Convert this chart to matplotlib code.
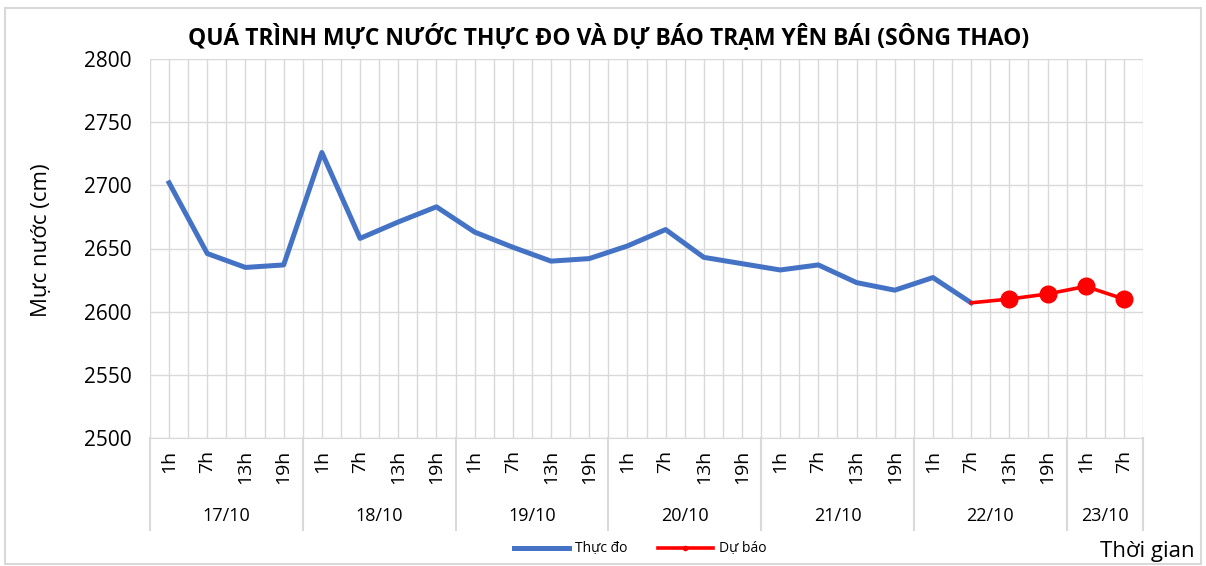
import matplotlib
matplotlib.use("Agg")
import matplotlib.pyplot as plt
from matplotlib.patches import Rectangle

# ====================================
# DATA
# ====================================

days = ["17/10", "18/10", "19/10", "20/10", "21/10", "22/10", "23/10"]
hours_per_day = [
    ["1h", "7h", "13h", "19h"],
    ["1h", "7h", "13h", "19h"],
    ["1h", "7h", "13h", "19h"],
    ["1h", "7h", "13h", "19h"],
    ["1h", "7h", "13h", "19h"],
    ["1h", "7h", "13h", "19h"],
    ["1h", "7h"],
]

observed = [2702, 2646, 2635, 2637, 2726, 2658, 2671, 2683,
            2663, 2651, 2640, 2642, 2652, 2665, 2643, 2638,
            2633, 2637, 2623, 2617, 2627, 2607]

forecast = [2607, 2610, 2614, 2620, 2610]

# ====================================
# SETTINGS
# ====================================

plt.rcParams["font.family"] = ["Open Sans", "DejaVu Sans"]

W, H = 1206, 566
fig = plt.figure(figsize=(W / 100, H / 100), dpi=100)

# plot area in pixels
left, right, top, bottom = 150, 1143, 59, 438
ax = fig.add_axes([left / W, 1 - bottom / H, (right - left) / W, (bottom - top) / H])

hour_labels = [h for hs in hours_per_day for h in hs]
n = len(hour_labels)
x_obs = list(range(len(observed)))
x_fc = list(range(len(observed) - 1, len(observed) - 1 + len(forecast)))

# ====================================
# LINES
# ====================================

ax.plot(x_obs, observed, color="#4472c4", lw=3.6, solid_joinstyle="round",
        label="Thực đo", zorder=3)
ax.plot(x_fc, forecast, color="#ff0000", lw=2.6, marker="o", markersize=12,
        markevery=list(range(1, len(forecast))), label="Dự báo", zorder=4)

# ====================================
# AXES
# ====================================

ax.set_xlim(-0.5, n - 0.5)
ax.set_ylim(2500, 2800)
ax.set_yticks(range(2500, 2801, 50))
ax.tick_params(axis="y", length=0, labelsize=15, pad=13)
ax.set_xticks([])

for s in ["top", "right", "left"]:
    ax.spines[s].set_visible(False)
ax.spines["bottom"].set_color("#d9d9d9")

# grid lines
ax.grid(axis="y", color="#d9d9d9", lw=1)
for i in range(2 * n + 1):
    ax.axvline(-0.5 + i * 0.5, color="#d9d9d9", lw=1, zorder=0)
ax.set_axisbelow(True)

# ====================================
# MULTI-LEVEL CATEGORY LABELS
# ====================================

tr = ax.get_xaxis_transform()
ax_h = (bottom - top)

for i, h in enumerate(hour_labels):
    ax.text(i, -12 / ax_h, h, transform=tr, rotation=90, ha="center", va="top",
            fontsize=14)

pos = 0
ax.axvline(-0.5, ymin=-92 / ax_h, ymax=0, color="#d9d9d9", lw=1.5, clip_on=False)
for d, hs in zip(days, hours_per_day):
    mid = pos + (len(hs) - 1) / 2
    ax.text(mid, -78 / ax_h, d, transform=tr, ha="center", va="center", fontsize=13)
    pos += len(hs)
    ax.axvline(pos - 0.5, ymin=-92 / ax_h, ymax=0, color="#d9d9d9", lw=1.5,
               clip_on=False)

# ====================================
# TEXT
# ====================================

fig.text(609 / W, 1 - 38 / H,
         "QUÁ TRÌNH MỰC NƯỚC THỰC ĐO VÀ DỰ BÁO TRẠM YÊN BÁI (SÔNG THAO)",
         ha="center", va="center", fontsize=16.5, fontweight="bold")
fig.text(42 / W, 1 - 240 / H, "Mực nước (cm)", rotation=90,
         ha="center", va="center", fontsize=16)
fig.text(1195 / W, 1 - 551 / H, "Thời gian", ha="right", va="center", fontsize=16)

fig.legend(loc="center", bbox_to_anchor=(640 / W, 1 - 549 / H), ncol=2,
           frameon=False, fontsize=10, handlelength=4, columnspacing=2.2,
           handletextpad=0.4, markerscale=0.25)

# outer border
fig.patches.append(Rectangle((5 / W, 2 / H), 1196 / W, 1 - 10 / H,
                             transform=fig.transFigure, fill=False,
                             edgecolor="#d9d9d9", lw=1.5))

plt.savefig("out.png", dpi=100)
